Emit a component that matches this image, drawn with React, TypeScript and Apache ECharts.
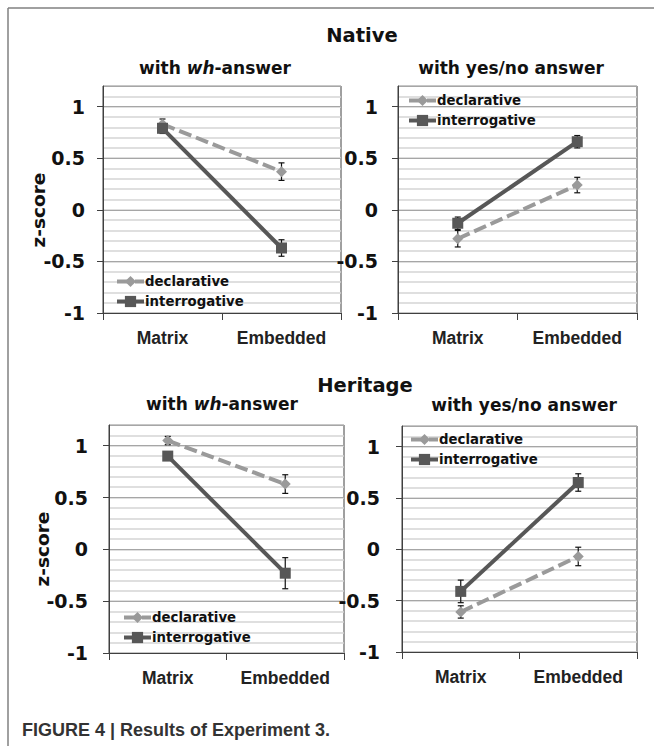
import React, { useEffect, useRef } from 'react';
import * as echarts from 'echarts';

// ---------- data ----------
const categories = ['Matrix', 'Embedded'];
const seriesNames = ['declarative', 'interrogative'];
const groupTitles = ['Native', 'Heritage'];
const yAxisTitle = 'z-score';
const captionText = 'FIGURE 4 | Results of Experiment 3.';

// Native, with wh-answer
const nativeWhDeclarative = [0.83, 0.37];
const nativeWhDeclarativeErr = [0.05, 0.085];
const nativeWhInterrogative = [0.79, -0.37];
const nativeWhInterrogativeErr = [0.05, 0.08];
// Native, with yes/no answer
const nativeYnDeclarative = [-0.28, 0.24];
const nativeYnDeclarativeErr = [0.08, 0.075];
const nativeYnInterrogative = [-0.13, 0.66];
const nativeYnInterrogativeErr = [0.06, 0.06];
// Heritage, with wh-answer
const heritageWhDeclarative = [1.05, 0.63];
const heritageWhDeclarativeErr = [0.04, 0.09];
const heritageWhInterrogative = [0.9, -0.23];
const heritageWhInterrogativeErr = [0.04, 0.15];
// Heritage, with yes/no answer
const heritageYnDeclarative = [-0.61, -0.07];
const heritageYnDeclarativeErr = [0.06, 0.09];
const heritageYnInterrogative = [-0.41, 0.65];
const heritageYnInterrogativeErr = [0.11, 0.085];

const yMin = -1;
const yMax = 1.2;
const yMajor = 0.5;
const yMinor = 0.1;

// ---------- layout ----------
const panels = [
  { grid: { left: 103, top: 86, width: 238, height: 227 }, decl: nativeWhDeclarative, declErr: nativeWhDeclarativeErr, intr: nativeWhInterrogative, intrErr: nativeWhInterrogativeErr, wh: true, title: { x: 215, y: 68 }, legend: { left: 115, top: 275 }, labelMargin: 18, ylab: { x: 38, y: 210 } },
  { grid: { left: 398, top: 86, width: 239, height: 227 }, decl: nativeYnDeclarative, declErr: nativeYnDeclarativeErr, intr: nativeYnInterrogative, intrErr: nativeYnInterrogativeErr, wh: false, title: { x: 511, y: 68 }, legend: { left: 407, top: 94 }, labelMargin: 20, ylab: null },
  { grid: { left: 109, top: 425, width: 235, height: 228 }, decl: heritageWhDeclarative, declErr: heritageWhDeclarativeErr, intr: heritageWhInterrogative, intrErr: heritageWhInterrogativeErr, wh: true, title: { x: 222, y: 404 }, legend: { left: 122, top: 611 }, labelMargin: 21, ylab: { x: 42, y: 549 } },
  { grid: { left: 402, top: 426, width: 235, height: 226 }, decl: heritageYnDeclarative, declErr: heritageYnDeclarativeErr, intr: heritageYnInterrogative, intrErr: heritageYnInterrogativeErr, wh: false, title: { x: 524, y: 405 }, legend: { left: 409, top: 433 }, labelMargin: 22, ylab: null },
];

const calibriLike = 'DejaVu Sans, Open Sans, sans-serif';
const arialLike = 'Liberation Sans, Arial, sans-serif';
const declColor = '#9a9a9a';
const intrColor = '#575757';
const axisColor = '#404040';

function errorData(vals: number[], errs: number[]) {
  return vals.map((v, i) => [i, v - errs[i], v + errs[i]]);
}

function buildOption() {
  const grid: any[] = [];
  const xAxis: any[] = [];
  const yAxis: any[] = [];
  const series: any[] = [];
  const legend: any[] = [];
  const graphic: any[] = [];

  // minor gridline axes first (indices 0..3), major axes (4..7)
  panels.forEach((p, i) => {
    grid.push({ ...p.grid, show: true, borderColor: axisColor, borderWidth: 1, backgroundColor: '#fff', containLabel: false, outerBoundsMode: 'none' });
    xAxis.push({
      type: 'category', gridIndex: i, data: categories, boundaryGap: true, position: 'bottom',
      axisLine: { show: true, onZero: false, lineStyle: { color: axisColor, width: 1 } },
      axisTick: { show: true, length: 7, lineStyle: { color: axisColor, width: 1 } },
      axisLabel: { margin: 16, fontFamily: arialLike, fontWeight: 'bold', fontSize: 17.5, color: '#222' },
      splitLine: { show: false },
    });
    yAxis.push({
      type: 'value', gridIndex: i, position: 'left', min: yMin, max: yMax, interval: yMinor,
      axisLine: { show: false }, axisTick: { show: false }, axisLabel: { show: false },
      splitLine: { show: true, lineStyle: { color: '#d4d4d4', width: 1.5 } },
    });
  });
  panels.forEach((p, i) => {
    yAxis.push({
      type: 'value', gridIndex: i, position: 'left', offset: 0, min: yMin, max: yMax, interval: yMajor,
      axisLine: { show: true, onZero: false, lineStyle: { color: axisColor, width: 1 } },
      axisTick: { show: true, length: 6, lineStyle: { color: axisColor, width: 1 } },
      axisLabel: {
        margin: p.labelMargin, fontFamily: calibriLike, fontWeight: 'bold', fontSize: 19, color: '#111',
        showMaxLabel: false,
        formatter: (v: number) => (v > 1.0001 ? '' : String(Math.round(v * 10) / 10)),
      },
      splitLine: { show: true, lineStyle: { color: '#a6a6a6', width: 1 } },
    });
  });

  panels.forEach((p, i) => {
    series.push({
      type: 'line', name: seriesNames[0], xAxisIndex: i, yAxisIndex: 4 + i, data: p.decl,
      symbol: 'diamond', symbolSize: 11, z: 3,
      lineStyle: { color: declColor, width: 4, type: [13, 5] },
      itemStyle: { color: declColor },
    });
    series.push({
      type: 'line', name: seriesNames[1], xAxisIndex: i, yAxisIndex: 4 + i, data: p.intr,
      symbol: 'rect', symbolSize: 11, z: 4,
      lineStyle: { color: intrColor, width: 4, type: 'solid' },
      itemStyle: { color: intrColor },
    });
    series.push({
      type: 'custom', xAxisIndex: i, yAxisIndex: 4 + i, z: 2,
      data: [...errorData(p.decl, p.declErr), ...errorData(p.intr, p.intrErr)],
      encode: { x: 0, y: [1, 2] },
      renderItem: (params: any, api: any) => {
        const x = api.value(0);
        const lo = api.coord([x, api.value(1)]);
        const hi = api.coord([x, api.value(2)]);
        const cap = 3;
        const style = { stroke: '#111', lineWidth: 1.2 };
        return {
          type: 'group',
          children: [
            { type: 'line', shape: { x1: lo[0], y1: lo[1], x2: hi[0], y2: hi[1] }, style },
            { type: 'line', shape: { x1: lo[0] - cap, y1: lo[1], x2: lo[0] + cap, y2: lo[1] }, style },
            { type: 'line', shape: { x1: hi[0] - cap, y1: hi[1], x2: hi[0] + cap, y2: hi[1] }, style },
          ],
        };
      },
    });
    legend.push({
      data: seriesNames, orient: 'vertical', left: p.legend.left, top: p.legend.top,
      itemWidth: 27, itemHeight: 14, itemGap: 7, padding: 0, selectedMode: false,
      lineStyle: { width: 4 },
      textStyle: { fontFamily: calibriLike, fontWeight: 'bold', fontSize: 13.3, color: '#111', padding: [0, 0, 0, -4] },
    });

    graphic.push({
      type: 'text', x: p.title.x, y: p.title.y, z: 10,
      style: {
        text: p.wh ? '{n|with }{i|wh}{n|-answer}' : '{n|with yes/no answer}',
        align: 'center', verticalAlign: 'middle',
        rich: {
          n: { fontFamily: calibriLike, fontWeight: 'bold', fontSize: 17, fill: '#111' },
          i: { fontFamily: calibriLike, fontWeight: 'bold', fontStyle: 'italic', fontSize: 17, fill: '#111' },
        },
      },
    });
    if (p.ylab) {
      graphic.push({
        type: 'text', x: p.ylab.x, y: p.ylab.y, rotation: Math.PI / 2, z: 10,
        style: { text: yAxisTitle, align: 'center', verticalAlign: 'middle', fontFamily: calibriLike, fontWeight: 'bold', fontSize: 18.5, fill: '#111' },
      });
    }
  });

  graphic.push({ type: 'text', x: 362, y: 35, z: 10, style: { text: groupTitles[0], align: 'center', verticalAlign: 'middle', fontFamily: calibriLike, fontWeight: 'bold', fontSize: 19.5, fill: '#111' } });
  graphic.push({ type: 'text', x: 365, y: 385, z: 10, style: { text: groupTitles[1], align: 'center', verticalAlign: 'middle', fontFamily: calibriLike, fontWeight: 'bold', fontSize: 19.5, fill: '#111' } });
  graphic.push({ type: 'text', x: 22, y: 730, z: 10, style: { text: captionText, align: 'left', verticalAlign: 'middle', fontFamily: arialLike, fontWeight: 'bold', fontSize: 18, fill: '#333' } });
  graphic.push({ type: 'line', z: 10, shape: { x1: 8, y1: 8, x2: 8, y2: 746 }, style: { stroke: '#808080', lineWidth: 1.5 } });
  graphic.push({ type: 'line', z: 10, shape: { x1: 8, y1: 8, x2: 654, y2: 8 }, style: { stroke: '#808080', lineWidth: 1.5 } });

  return { animation: false, backgroundColor: '#fff', grid, xAxis, yAxis, series, legend, graphic, tooltip: { show: false } };
}

export default function App() {
  const ref = useRef<HTMLDivElement>(null);
  useEffect(() => {
    if (!ref.current) return;
    const chart = echarts.init(ref.current, undefined, { renderer: 'svg' });
    chart.setOption(buildOption() as any);
    return () => chart.dispose();
  }, []);
  return <div ref={ref} style={{ position: 'absolute', left: 0, top: 0, width: 654, height: 746, background: '#fff' }} />;
}
